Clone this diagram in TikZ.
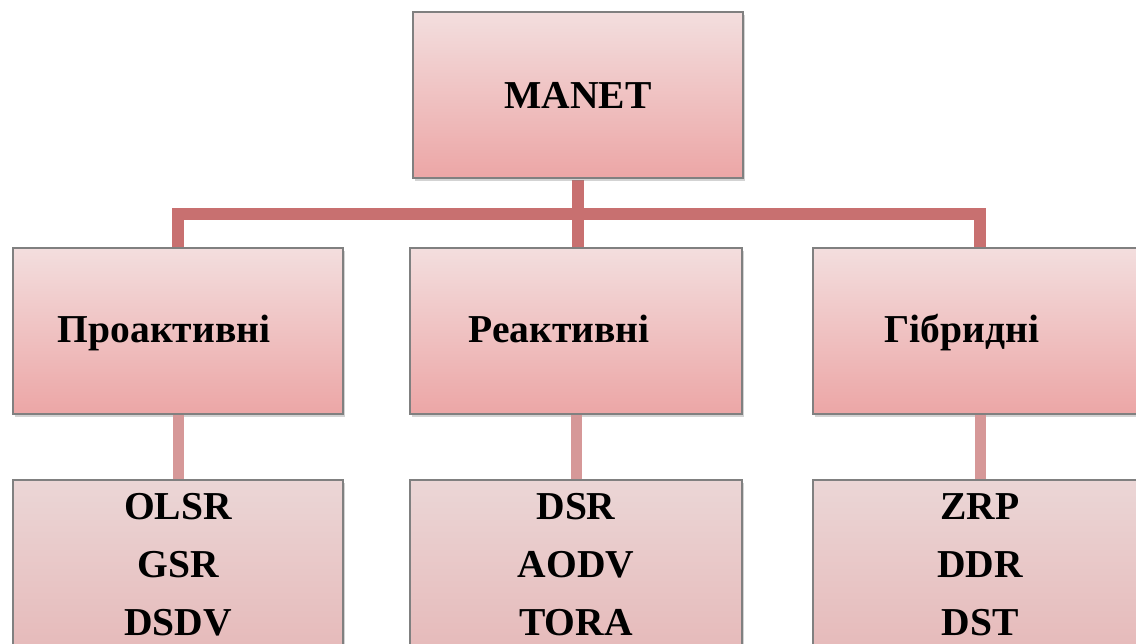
\documentclass[tikz,border=0pt]{standalone}
\usepackage{fontspec}
\setmainfont{Liberation Serif}
\usepackage{tikz}
\usetikzlibrary{positioning,shadows}
\usepackage{xcolor}
\definecolor{boxtop}{RGB}{243,222,222}
\definecolor{boxbottom}{RGB}{236,166,166}
\definecolor{leaftop}{RGB}{235,214,214}
\definecolor{leafbottom}{RGB}{230,186,186}
\definecolor{boxline}{RGB}{128,128,128}
\definecolor{linkred}{RGB}{200,112,112}
\definecolor{linkpale}{RGB}{214,152,152}
\newlength{\pxu}
\setlength{\pxu}{0.2mm}
\tikzset{
  catnode/.style={draw=boxline,line width=0.9pt,top color=boxtop,bottom color=boxbottom,
    minimum width=330\pxu,minimum height=166\pxu,inner sep=0pt,align=center,
    font=\fontsize{22.5}{33}\selectfont\bfseries,
    drop shadow={shadow xshift=1.2pt,shadow yshift=-1.8pt,opacity=0.35}},
  classnode/.style={catnode,text height=18pt,text depth=4.4pt},
  leafnode/.style={catnode,top color=leaftop,bottom color=leafbottom,minimum height=170\pxu},
  trunk/.style={draw=linkred,line width=12\pxu},
  branch/.style={draw=linkpale,line width=11\pxu}
}
\begin{document}
\begin{tikzpicture}[x=0.2mm,y=-0.2mm]
  \useasboundingbox (0,0) rectangle (1136,643);
  \clip (0,0) rectangle (1136,643);
  % root and bus
  \coordinate (busl) at (178,214);
  \coordinate (busm) at (578,214);
  \coordinate (busr) at (980,214);
  \draw[trunk] (578,180) -- (busm);
  \draw[trunk] ([xshift=-6\pxu]busl) -- ([xshift=6\pxu]busr);
  \draw[trunk] (busl) -- (178,250);
  \draw[trunk] (busm) -- (578,250);
  \draw[trunk] (busr) -- (980,250);
  \node[catnode] (manet) at (578,95) {MANET};
  % protocol classes
  \node[classnode] (pro) at (178,331) {Проактивні\hspace*{28\pxu}};
  \node[classnode,minimum width=332\pxu] (rea) at (576,331) {Реактивні\hspace*{34\pxu}};
  \node[classnode,minimum width=334\pxu] (hyb) at (980,331) {Гібридні\hspace*{36\pxu}};
  % protocols
  \node[leafnode] (prolist) at (178,565) {OLSR\\GSR\\DSDV};
  \node[leafnode,minimum width=332\pxu] (realist) at (576,565) {DSR\\AODV\\TORA};
  \node[leafnode,minimum width=334\pxu] (hyblist) at (980,565) {ZRP\\DDR\\DST};
  \draw[branch] (pro.south) -- (prolist.north);
  \draw[branch] (rea.south) -- (realist.north);
  \draw[branch] (hyb.south) -- (hyblist.north);
\end{tikzpicture}
\end{document}
